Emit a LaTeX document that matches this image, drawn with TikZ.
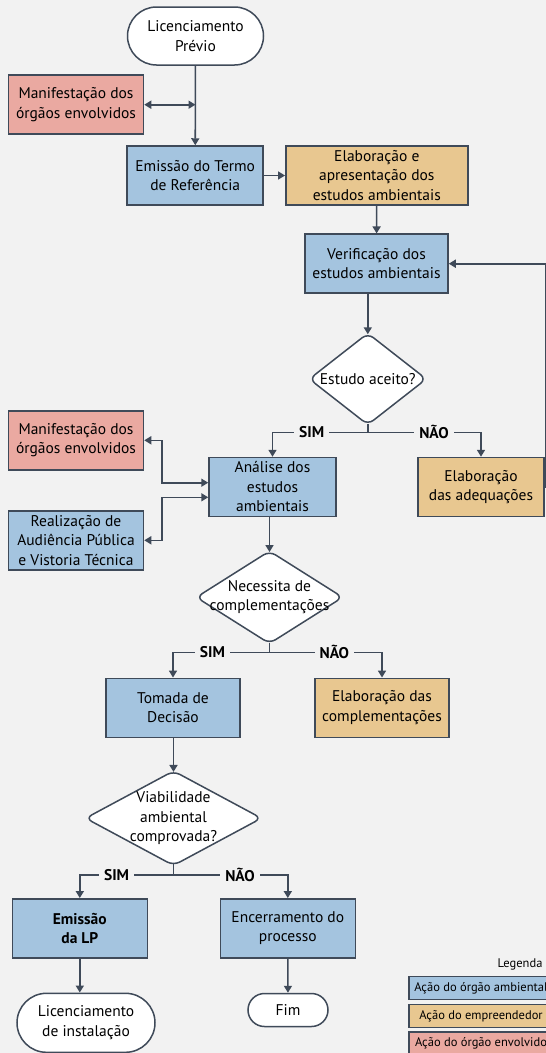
\documentclass[tikz,border=0pt]{standalone}
\usepackage{fontspec}
\setmainfont{PT Sans}
\usetikzlibrary{shapes.geometric,arrows.meta}

\definecolor{bggray}{HTML}{F2F2F2}
\definecolor{boxblue}{HTML}{A4C4DF}
\definecolor{boxorange}{HTML}{E8C790}
\definecolor{boxpink}{HTML}{EAA9A1}
\definecolor{lineslate}{HTML}{3F4A59}

\tikzset{
  caixa/.style={draw=lineslate, line width=1.5pt, rectangle, align=center, minimum height=59pt, inner sep=2pt, font=\fontsize{15.5}{19.5}\selectfont},
  acao_ambiental/.style={caixa, fill=boxblue},
  acao_empreendedor/.style={caixa, fill=boxorange},
  acao_envolvido/.style={caixa, fill=boxpink},
  terminal/.style={draw=lineslate, line width=1.5pt, rectangle, fill=white, align=center, inner sep=2pt, font=\fontsize{15.5}{19.5}\selectfont},
  decisao/.style={draw=lineslate, line width=1.5pt, diamond, fill=white, inner sep=0pt, rounded corners=7pt},
  texto_decisao/.style={align=center, inner sep=0pt, font=\fontsize{15.5}{19.5}\selectfont},
  ramo/.style={fill=bggray, inner xsep=5pt, inner ysep=1pt, font=\fontsize{15.5}{18}\selectfont\bfseries},
  conector/.style={draw=lineslate, line width=1.6pt},
  seta/.style={conector, -{Triangle[length=7pt,width=8pt]}},
  seta_dupla/.style={conector, {Triangle[length=7pt,width=8pt]}-{Triangle[length=7pt,width=8pt]}},
  leg_box/.style={draw=lineslate, line width=1.2pt, rectangle, minimum width=144pt, minimum height=23pt, inner sep=1pt, font=\fontsize{12.5}{15}\selectfont}
}

\begin{document}
\begin{tikzpicture}[x=1pt, y=-1pt]
        % fundo
        \useasboundingbox (0,0) rectangle (546,1053);
        \clip (0,0) rectangle (546,1053);
        \fill[bggray] (0,0) rectangle (546,1053);

        % inicio e termo de referencia
        \node[terminal, minimum width=136pt, minimum height=58pt, rounded corners=29pt] (inicio_lp) at (195.5,36) {Licenciamento\\Prévio};
        \node[acao_envolvido, minimum width=135pt] (manif_topo) at (76,104.7) {Manifestação dos\\órgãos envolvidos};
        \node[acao_ambiental, minimum width=136pt] (emissao_tr) at (195.2,175.5) {Emissão do Termo\\de Referência};
        \node[acao_empreendedor, minimum width=182pt] (elab_estudos) at (376.8,175.5) {Elaboração e\\apresentação dos\\estudos ambientais};
        \node[acao_ambiental, minimum width=143pt] (verif_estudos) at (376.5,263.7) {Verificação dos\\estudos ambientais};

        % primeira decisao
        \node[decisao, minimum width=117.5pt, minimum height=92pt] (dec_aceito) at (367.8,379) {};
        \node[texto_decisao] (txt_aceito) at (dec_aceito) {Estudo aceito?};
        \node[acao_envolvido, minimum width=135pt] (manif_meio) at (76,440.3) {Manifestação dos\\órgãos envolvidos};
        \node[acao_ambiental, minimum width=127pt] (analise) at (272.5,487) {Análise dos\\estudos\\ambientais};
        \node[acao_empreendedor, minimum width=126pt] (elab_adeq) at (481,487) {Elaboração\\das adequações};
        \node[acao_ambiental, minimum width=135pt] (audiencia) at (76,540.3) {Realização de\\Audiência Pública\\e Vistoria Técnica};

        % segunda decisao
        \node[decisao, minimum width=147pt, minimum height=93pt] (dec_compl) at (269.5,597.3) {};
        \node[texto_decisao] (txt_compl) at (dec_compl) {Necessita de\\complementações};
        \node[acao_ambiental, minimum width=134pt] (tomada) at (173,707.8) {Tomada de\\Decisão};
        \node[acao_empreendedor, minimum width=134pt] (elab_compl) at (382,707.8) {Elaboração das\\complementações};

        % terceira decisao
        \node[decisao, minimum width=176.5pt, minimum height=95pt] (dec_viab) at (173.5,818.2) {};
        \node[texto_decisao] (txt_viab) at (dec_viab) {Viabilidade\\ambiental\\comprovada?};
        \node[acao_ambiental, minimum width=135pt, font=\fontsize{15.5}{19.5}\selectfont\bfseries] (emissao_lp) at (79.8,928.3) {Emissão\\da LP};
        \node[acao_ambiental, minimum width=135pt] (encerra) at (287.8,928.3) {Encerramento do\\processo};
        \node[terminal, minimum width=138pt, minimum height=59pt, rounded corners=29.5pt] (lic_instal) at (86,1022.8) {Licenciamento\\de instalação};
        \node[terminal, minimum width=80pt, minimum height=33pt, rounded corners=16.5pt] (fim) at (288,1010) {Fim};

        % pontos de ramificacao
        \coordinate (split_aceito) at (367.8,432.3);
        \coordinate (split_compl) at (269.5,652.3);
        \coordinate (split_viab) at (173.5,875);

        % conectores
        \draw[seta] (inicio_lp) -- (emissao_tr);
        \draw[seta_dupla] (manif_topo.east) -- (manif_topo.east -| inicio_lp.south);
        \draw[seta] (emissao_tr) -- (elab_estudos);
        \draw[seta] (elab_estudos) -- (verif_estudos);
        \draw[seta] (verif_estudos.south -| dec_aceito.north) -- ([yshift=-2pt]dec_aceito.north);
        \draw[seta] (elab_adeq.east) -- ++(1.5,0) |- (verif_estudos.east);

        \draw[conector] ([yshift=2pt]dec_aceito.south) -- (split_aceito);
        \draw[seta] (split_aceito) -| (analise.north);
        \draw[seta] (split_aceito) -| (elab_adeq.north);
        \node[ramo] (sim_aceito) at (311.7,432.3) {SIM};
        \node[ramo] (nao_aceito) at (434,432.3) {NÃO};

        \draw[seta_dupla] (manif_meio.east) -- ++(17.5,0) |- ([yshift=4.3pt]analise.west);
        \draw[seta_dupla] (audiencia.east) -- ++(17.5,0) |- ([yshift=-10.3pt]analise.west);

        \draw[seta] (analise.south -| dec_compl.north) -- ([yshift=-2pt]dec_compl.north);
        \draw[conector] ([yshift=2pt]dec_compl.south) -- (split_compl);
        \draw[seta] (split_compl) -| (tomada.north);
        \draw[seta] (split_compl) -| (elab_compl.north);
        \node[ramo] (sim_compl) at (212.4,652.3) {SIM};
        \node[ramo] (nao_compl) at (334.3,652.3) {NÃO};

        \draw[seta] (tomada.south -| dec_viab.north) -- ([yshift=-2pt]dec_viab.north);
        \draw[conector] ([yshift=2pt]dec_viab.south) -- (split_viab);
        \draw[seta] (split_viab) -| (emissao_lp.north);
        \draw[seta] (split_viab) -| (encerra.north);
        \node[ramo] (sim_viab) at (116.6,875) {SIM};
        \node[ramo] (nao_viab) at (240,875) {NÃO};

        \draw[seta] (emissao_lp.south) -- (emissao_lp.south |- lic_instal.north);
        \draw[seta] (encerra) -- (fim);

        % legenda
        \node[anchor=east, font=\fontsize{12.5}{15}\selectfont] (legenda) at (546,964) {Legenda};
        \node[leg_box, fill=boxblue] (leg_ambiental) at (481,988.3) {Ação do órgão ambiental};
        \node[leg_box, fill=boxorange] (leg_empreendedor) at (481,1016.3) {Ação do empreendedor};
        \node[leg_box, fill=boxpink] (leg_envolvido) at (481,1043.5) {Ação do órgão envolvido};
\end{tikzpicture}
\end{document}
